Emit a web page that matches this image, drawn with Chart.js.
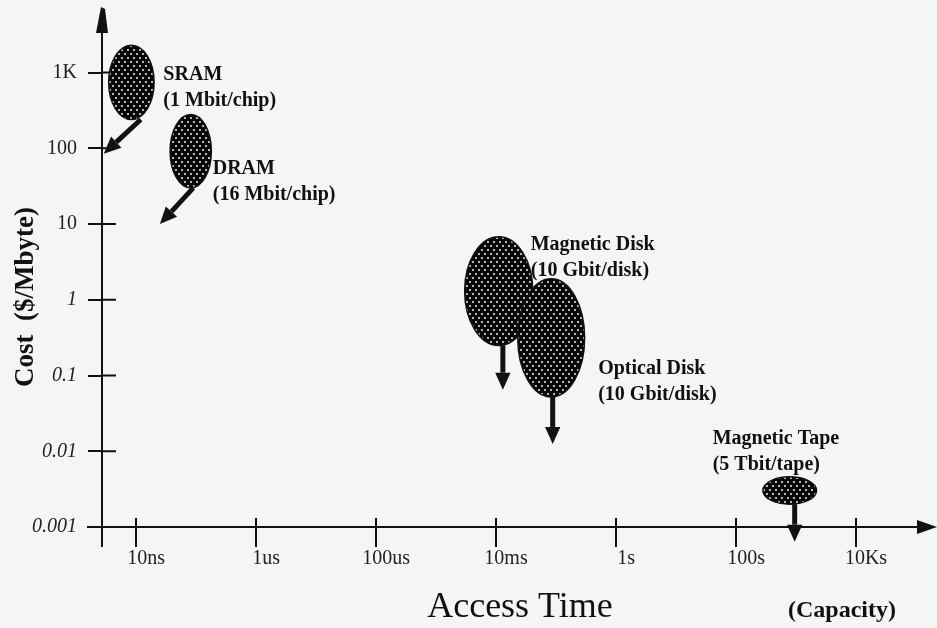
<!DOCTYPE html>
<html>
<head>
<meta charset="utf-8">
<script src="https://cdn.jsdelivr.net/npm/chart.js@4/dist/chart.umd.min.js"></script>
<style>
  body { margin: 0; background: #f5f5f5; }
  .chart-box { width: 937px; height: 628px; }
</style>
</head>
<body>
<div class="chart-box"><canvas id="memoryChart"></canvas></div>
<script>
// axis ticks
const timeTicks = [1e-8, 1e-6, 1e-4, 1e-2, 1, 100, 1e4];
const timeTickLabels = ['10ns', '1us', '100us', '10ms', '1s', '100s', '10Ks'];
const costTicks = [0.001, 0.01, 0.1, 1, 10, 100, 1000];
const costTickLabels = ['0.001', '0.01', '0.1', '1', '10', '100', '1K'];

// technologies: access time range (s) and cost range ($/Mbyte)
const techNames = ['SRAM', 'DRAM', 'Magnetic Disk', 'Optical Disk', 'Magnetic Tape'];
const techCapacity = ['(1 Mbit/chip)', '(16 Mbit/chip)', '(10 Gbit/disk)', '(10 Gbit/disk)', '(5 Tbit/tape)'];
const timeMin = [3.5e-9, 3.7e-8, 3.0e-3, 2.3e-2, 280];
const timeMax = [2.0e-8, 1.8e-7, 4.1e-2, 0.30, 2200];
const costMin = [240, 30, 0.25, 0.052, 0.002];
const costMax = [2300, 280, 6.8, 1.9, 0.0046];

// cost trend arrows (start -> tip)
const trendFromTime = [1.2e-8, 9e-8, 1.3e-2, 8.8e-2, 950];
const trendFromCost = [240, 30, 0.25, 0.052, 0.002];
const trendToTime = [2.9e-9, 2.5e-8, 1.3e-2, 8.8e-2, 950];
const trendToCost = [85, 10, 0.065, 0.0125, 0.00064];

// label placement, pixels from ellipse centre (text left, first baseline)
const labelDx = [32, 22, 32, 47, -77];
const labelDy = [-2, 23, -41, 36, -47];

const serif = '"Liberation Serif", "Times New Roman", serif';

// dotted fill for the blobs
const dots = document.createElement('canvas');
dots.width = 6;
dots.height = 8;
const dctx = dots.getContext('2d');
dctx.fillStyle = '#080808';
dctx.fillRect(0, 0, 6, 8);
dctx.fillStyle = '#b8b8b8';
dctx.fillRect(1, 1, 2, 2);
dctx.fillRect(4, 5, 2, 2);

function drawArrow(c, x1, y1, x2, y2, w, head) {
  const ang = Math.atan2(y2 - y1, x2 - x1);
  const bx = x2 - Math.cos(ang) * head;
  const by = y2 - Math.sin(ang) * head;
  const hw = head * 0.45;
  c.lineWidth = w;
  c.beginPath();
  c.moveTo(x1, y1);
  c.lineTo(bx, by);
  c.stroke();
  c.beginPath();
  c.moveTo(x2, y2);
  c.lineTo(bx + Math.sin(ang) * hw, by - Math.cos(ang) * hw);
  c.lineTo(bx - Math.sin(ang) * hw, by + Math.cos(ang) * hw);
  c.closePath();
  c.fill();
}

const memoryPlugin = {
  id: 'memoryPlugin',
  afterDraw(chart) {
    const c = chart.ctx;
    const xs = chart.scales.x;
    const ys = chart.scales.y;
    const area = chart.chartArea;
    c.save();
    c.fillStyle = '#111';
    c.strokeStyle = '#111';

    // axes extensions, crossing tick marks, arrowheads
    c.lineWidth = 2;
    c.beginPath();
    c.moveTo(area.left, area.bottom);
    c.lineTo(area.left, area.bottom + 20);
    c.moveTo(area.left - 15, area.bottom);
    c.lineTo(area.left, area.bottom);
    c.moveTo(area.right, area.bottom);
    c.lineTo(area.right - 12, area.bottom);
    costTicks.forEach(v => {
      const y = ys.getPixelForValue(v);
      c.moveTo(area.left, y);
      c.lineTo(area.left + 14, y);
    });
    timeTicks.forEach(v => {
      const x = xs.getPixelForValue(v);
      c.moveTo(x, area.bottom);
      c.lineTo(x, area.bottom - 9);
    });
    c.stroke();

    c.beginPath();
    c.moveTo(area.left - 1, area.top - 5);
    c.lineTo(area.left + 3, area.top - 3);
    c.lineTo(area.left + 6, area.top + 21);
    c.lineTo(area.left - 6, area.top + 21);
    c.closePath();
    c.fill();
    c.beginPath();
    c.moveTo(area.right + 7, area.bottom);
    c.lineTo(area.right - 13, area.bottom - 7);
    c.lineTo(area.right - 13, area.bottom + 7);
    c.closePath();
    c.fill();

    // blobs
    const pattern = c.createPattern(dots, 'repeat');
    techNames.forEach((name, i) => {
      const x1 = xs.getPixelForValue(timeMin[i]);
      const x2 = xs.getPixelForValue(timeMax[i]);
      const y1 = ys.getPixelForValue(costMax[i]);
      const y2 = ys.getPixelForValue(costMin[i]);
      const cx = (x1 + x2) / 2;
      const cy = (y1 + y2) / 2;
      c.beginPath();
      c.ellipse(cx, cy, (x2 - x1) / 2, (y2 - y1) / 2, 0, 0, Math.PI * 2);
      c.fillStyle = pattern;
      c.fill();
      c.lineWidth = 1.5;
      c.strokeStyle = '#111';
      c.stroke();

      c.fillStyle = '#111';
      drawArrow(c,
        xs.getPixelForValue(trendFromTime[i]), ys.getPixelForValue(trendFromCost[i]),
        xs.getPixelForValue(trendToTime[i]), ys.getPixelForValue(trendToCost[i]),
        5, 17);

      c.font = 'bold 20px ' + serif;
      c.textAlign = 'left';
      c.textBaseline = 'alphabetic';
      c.fillText(name, cx + labelDx[i], cy + labelDy[i]);
      c.fillText(techCapacity[i], cx + labelDx[i], cy + labelDy[i] + 26);
    });

    // axis titles
    c.fillStyle = '#111';
    c.font = '36px ' + serif;
    c.textAlign = 'center';
    c.fillText('Access Time', 520, 617);
    c.font = 'bold 24px ' + serif;
    c.fillText('(Capacity)', 842, 617);
    c.translate(33, 297);
    c.rotate(-Math.PI / 2);
    c.font = 'bold 27px ' + serif;
    c.fillText('Cost  ($/Mbyte)', 0, 0);
    c.restore();
  }
};

const ctx = document.getElementById('memoryChart').getContext('2d');

new Chart(ctx, {
  type: 'scatter',
  data: {
    datasets: [{
      data: techNames.map((n, i) => ({
        x: Math.sqrt(timeMin[i] * timeMax[i]),
        y: Math.sqrt(costMin[i] * costMax[i])
      })),
      pointRadius: 0
    }]
  },
  options: {
    responsive: true,
    maintainAspectRatio: false,
    animation: false,
    layout: { padding: { top: 12, right: 7, left: 0, bottom: 0 } },
    plugins: {
      legend: { display: false },
      tooltip: { enabled: false }
    },
    scales: {
      x: {
        type: 'logarithmic',
        min: 2.71e-9,
        max: 1.71e5,
        border: { display: true, color: '#111', width: 2 },
        grid: { drawOnChartArea: false, drawTicks: true, tickLength: 20, color: '#111', lineWidth: 2 },
        ticks: {
          autoSkip: false,
          maxRotation: 0,
          padding: 0,
          labelOffset: 10,
          color: '#222',
          font: { family: serif, size: 20 },
          callback: (value, index) => timeTickLabels[index]
        },
        afterBuildTicks: (axis) => { axis.ticks = timeTicks.map(v => ({ value: v })); },
        afterFit: (axis) => {
          axis.height = 101;
          axis.paddingLeft = 0;
          axis.paddingRight = 0;
        }
      },
      y: {
        type: 'logarithmic',
        min: 0.001,
        max: 6310,
        border: { display: true, color: '#111', width: 2 },
        grid: { drawOnChartArea: false, drawTicks: true, tickLength: 14, color: '#111', lineWidth: 2 },
        ticks: {
          autoSkip: false,
          padding: 11,
          color: '#222',
          font: (c) => ({
            family: serif,
            size: 20,
            style: c.tick && c.tick.value < 10 ? 'italic' : 'normal'
          }),
          callback: (value, index) => costTickLabels[index]
        },
        afterBuildTicks: (axis) => { axis.ticks = costTicks.map(v => ({ value: v })); },
        afterFit: (axis) => {
          axis.width = 102;
          axis.paddingTop = 0;
          axis.paddingBottom = 0;
        }
      }
    }
  },
  plugins: [memoryPlugin]
});
</script>
</body>
</html>
